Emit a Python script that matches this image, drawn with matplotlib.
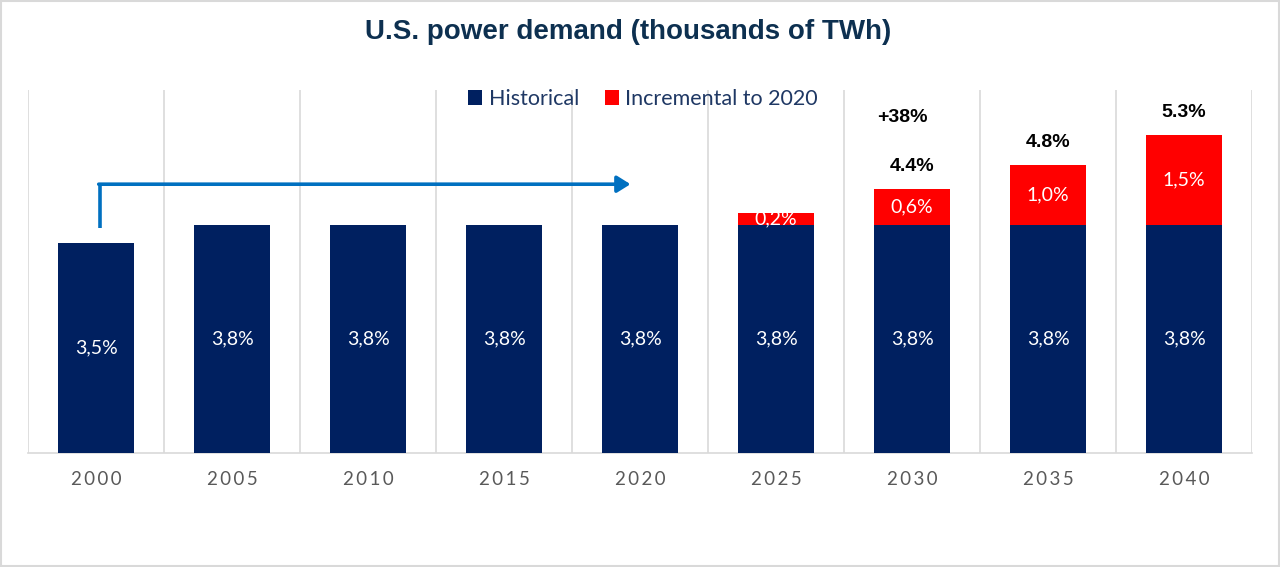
import matplotlib
matplotlib.use("Agg")
import matplotlib.pyplot as plt
from matplotlib.patches import Rectangle, FancyArrowPatch
import numpy as np

years = ["2000", "2005", "2010", "2015", "2020", "2025", "2030", "2035", "2040"]
historical = [3.5, 3.8, 3.8, 3.8, 3.8, 3.8, 3.8, 3.8, 3.8]
incremental = [0, 0, 0, 0, 0, 0.2, 0.6, 1.0, 1.5]
hist_labels = ["3,5%", "3,8%", "3,8%", "3,8%", "3,8%", "3,8%", "3,8%", "3,8%", "3,8%"]
incr_labels = ["", "", "", "", "", "0,2%", "0,6%", "1,0%", "1,5%"]
total_labels = ["", "", "", "", "", "", "4.4%", "4.8%", "5.3%"]
growth_label = "+38%"

NAVY = "#002060"
RED = "#FF0000"
GRID = "#D9D9D9"
LIGHT = ["Lato", "DejaVu Sans"]
BOLD = ["Liberation Sans", "DejaVu Sans"]

fig = plt.figure(figsize=(12.8, 5.67), dpi=100)
ax = fig.add_axes([28/1280, 1-453/567, (1252-28)/1280, (453-90)/567])

x = np.arange(len(years))
w = 0.56
ax.bar(x, historical, width=w, color=NAVY, zorder=3, label="Historical")
ax.bar(x, incremental, width=w, bottom=historical, color=RED, zorder=3, label="Incremental to 2020")

ax.set_xlim(-0.5, len(years) - 0.5)
ax.set_ylim(0, 6.05)

for xi, h, lab in zip(x, historical, hist_labels):
    ax.text(xi, h/2, lab, ha="center", va="center", color="white", fontsize=14,
            family=LIGHT, zorder=4)
for xi, h, inc, lab in zip(x, historical, incremental, incr_labels):
    if lab:
        ax.text(xi, h + inc/2, lab, ha="center", va="center", color="white", fontsize=14,
                family=LIGHT, zorder=4)
for xi, h, inc, lab in zip(x, historical, incremental, total_labels):
    if lab:
        ax.text(xi, h + inc + 0.38, lab, ha="center", va="center", color="black",
                fontsize=14, fontweight="bold", family=BOLD, zorder=4)
ax.text(6 - 0.07, 5.6, growth_label, ha="center", va="center", color="black",
        fontsize=14, fontweight="bold", family=BOLD)

ax.set_xticks(x)
ax.set_xticklabels(["\u2009".join(list(y)) for y in years], fontsize=13.5, color="#595959", family=LIGHT)
ax.set_xticks(np.arange(-0.5, len(years)), minor=True)
ax.grid(True, which="minor", axis="x", color=GRID, linewidth=1.2, zorder=0)
ax.tick_params(axis="x", which="both", length=0, pad=13)
ax.set_yticks([])
for s in ["top", "right", "left"]:
    ax.spines[s].set_visible(False)
ax.spines["bottom"].set_color(GRID)
ax.spines["bottom"].set_linewidth(1.2)

# arrow
ax.plot([0.03, 0.03], [3.75, 4.48], color="#0070C0", lw=2.6, solid_capstyle="butt", zorder=5)
arr = FancyArrowPatch((0.03 - 0.01, 4.48), (3.93, 4.48), arrowstyle="-|>,head_length=8,head_width=5",
                      color="#0070C0", lw=2.6, zorder=5, shrinkA=0, shrinkB=0)
ax.add_patch(arr)

fig.text(628/1280, 1-32/567, "U.S. power demand (thousands of TWh)", ha="center", va="center",
         fontsize=20, fontweight="bold", color="#0D3050", family=BOLD)

leg = fig.legend(loc="center", bbox_to_anchor=(643/1280, 1-99/567), ncol=2, frameon=False,
                 handlelength=0.65, handleheight=0.65, handletextpad=0.3, columnspacing=1.2,
                 prop={"family": LIGHT, "size": 15.5})
for t in leg.get_texts():
    t.set_color("#1F3864")

fig.patches.append(Rectangle((0.001, 0.001), 0.998, 0.997, transform=fig.transFigure,
                             fill=False, edgecolor="#D9D9D9", linewidth=1.5))

fig.savefig("out.png", dpi=100)
